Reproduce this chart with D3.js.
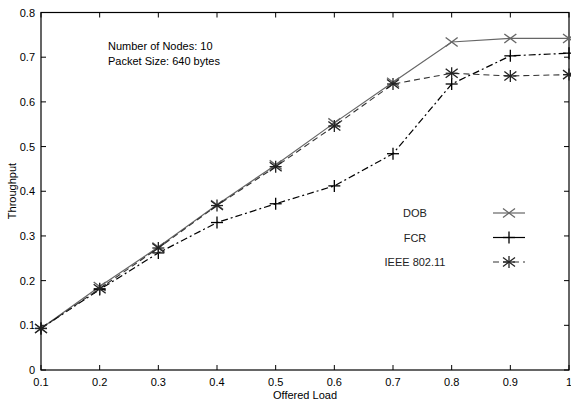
<!DOCTYPE html>
<html><head><meta charset="utf-8">
<script src="https://cdn.jsdelivr.net/npm/d3@7"></script>
<style>
body{margin:0;background:#fff;}
svg{display:block;font-family:"Liberation Sans",Arial,sans-serif;}
</style></head>
<body><svg id="c" width="571" height="403"></svg>
<script>
const loads = [0.1,0.2,0.3,0.4,0.5,0.6,0.7,0.8,0.9,1.0];
const dob = [0.093,0.187,0.275,0.370,0.459,0.553,0.644,0.734,0.742,0.742];
const fcr = [0.093,0.180,0.262,0.330,0.372,0.412,0.484,0.640,0.703,0.709];
const ieee = [0.093,0.182,0.273,0.368,0.455,0.546,0.640,0.664,0.658,0.661];
const xTicks = [0.1,0.2,0.3,0.4,0.5,0.6,0.7,0.8,0.9,1.0];
const xTickLabels = ["0.1","0.2","0.3","0.4","0.5","0.6","0.7","0.8","0.9","1"];
const yTicks = [0,0.1,0.2,0.3,0.4,0.5,0.6,0.7,0.8];
const yTickLabels = ["0","0.1","0.2","0.3","0.4","0.5","0.6","0.7","0.8"];
const seriesNames = ["DOB","FCR","IEEE 802.11"];
const notes = ["Number of Nodes: 10","Packet Size: 640 bytes"];

const svg = d3.select("#c");
const x = d3.scaleLinear().domain([0.1,1.0]).range([41,569]);
const y = d3.scaleLinear().domain([0,0.8]).range([370,12.5]);

// frame
const g = svg.append("g");
g.append("rect").attr("x",x(0.1)).attr("y",y(0.8)).attr("width",x(1)-x(0.1)).attr("height",y(0)-y(0.8))
 .attr("fill","none").attr("stroke","#000").attr("stroke-width",1.2);

// ticks inward
xTicks.forEach((t,i)=>{
  g.append("line").attr("x1",x(t)).attr("x2",x(t)).attr("y1",y(0)).attr("y2",y(0)-5).attr("stroke","#000");
  g.append("line").attr("x1",x(t)).attr("x2",x(t)).attr("y1",y(0.8)).attr("y2",y(0.8)+5).attr("stroke","#000");
  g.append("text").attr("x",x(t)).attr("y",386).attr("text-anchor","middle").attr("font-size",11).text(xTickLabels[i]);
});
yTicks.forEach((t,i)=>{
  g.append("line").attr("x1",x(0.1)).attr("x2",x(0.1)+5).attr("y1",y(t)).attr("y2",y(t)).attr("stroke","#000");
  g.append("line").attr("x1",x(1)).attr("x2",x(1)-5).attr("y1",y(t)).attr("y2",y(t)).attr("stroke","#000");
  g.append("text").attr("x",35).attr("y",y(t)+4).attr("text-anchor","end").attr("font-size",11).text(yTickLabels[i]);
});

svg.append("text").attr("transform","translate(16,191) rotate(-90)").attr("text-anchor","middle").attr("font-size",11).text("Throughput");
svg.append("text").attr("x",305).attr("y",399).attr("text-anchor","middle").attr("font-size",11).text("Offered Load");

notes.forEach((n,i)=>{
  svg.append("text").attr("x",108).attr("y",50+i*15).attr("font-size",11).text(n);
});

const line = d3.line().x(d=>x(d[0])).y(d=>y(d[1]));
const S = [
  {name:seriesNames[0], vals:dob, color:"#666", dash:null, legendDash:null, marker:"x", width:1.2},
  {name:seriesNames[1], vals:fcr, color:"#000", dash:"7,3,2,3", legendDash:null, marker:"plus", width:1.2},
  {name:seriesNames[2], vals:ieee, color:"#333", dash:"6,4", legendDash:"6,4", marker:"star", width:1.1}
];
function marker(sel,type,cx,cy,color){
  const r=6;
  const gg = sel.append("g").attr("stroke",color).attr("stroke-width",1.3);
  if(type==="x"||type==="star"){
    gg.append("line").attr("x1",cx-r).attr("y1",cy-r*0.75).attr("x2",cx+r).attr("y2",cy+r*0.75);
    gg.append("line").attr("x1",cx-r).attr("y1",cy+r*0.75).attr("x2",cx+r).attr("y2",cy-r*0.75);
  }
  if(type==="plus"||type==="star"){
    gg.append("line").attr("x1",cx-r).attr("y1",cy).attr("x2",cx+r).attr("y2",cy);
    gg.append("line").attr("x1",cx).attr("y1",cy-r).attr("x2",cx).attr("y2",cy+r);
  }
}
S.forEach(s=>{
  const data = loads.map((l,i)=>[l,s.vals[i]]);
  svg.append("path").datum(data).attr("d",line).attr("fill","none").attr("stroke",s.color)
    .attr("stroke-width",s.width).attr("stroke-dasharray",s.dash);
  data.forEach(d=>marker(svg,s.marker,x(d[0]),y(d[1]),s.marker==="star"?"#222":s.color));
});

// legend
S.forEach((s,i)=>{
  const ly = 213 + i*24.5;
  svg.append("text").attr("x",415).attr("y",ly+4).attr("text-anchor","middle").attr("font-size",11).attr("fill","#222").text(s.name);
  svg.append("line").attr("x1",493).attr("x2",525).attr("y1",ly).attr("y2",ly).attr("stroke",s.color)
    .attr("stroke-width",s.width).attr("stroke-dasharray",s.legendDash);
  marker(svg,s.marker,509,ly,s.marker==="star"?"#222":s.color);
});
</script></body></html>
